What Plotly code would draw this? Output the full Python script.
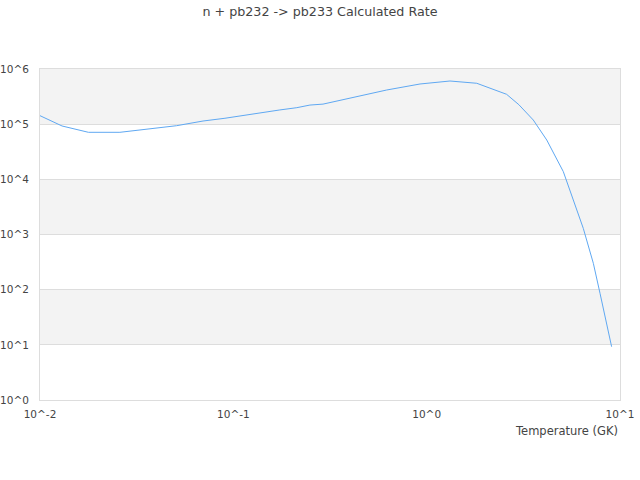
import plotly.graph_objects as go

title = "n + pb232 -> pb233 Calculated Rate"
x_label = "Temperature (GK)"

temperature = [0.01, 0.013, 0.0178, 0.0259, 0.0509, 0.0697, 0.0905, 0.1295, 0.174,
               0.213, 0.249, 0.291, 0.435, 0.621, 0.924, 1.32, 1.816, 2.395, 2.59,
               3.0, 3.56, 4.18, 5.09, 6.46, 7.28, 7.88, 9.05]
rate = [1.425e5, 9.27e4, 7.12e4, 7.12e4, 9.38e4, 1.14e5, 1.28e5, 1.57e5, 1.81e5,
        1.99e5, 2.22e5, 2.31e5, 3.15e5, 4.16e5, 5.35e5, 6.06e5, 5.51e5, 3.88e5, 3.48e5,
        2.25e5, 1.19e5, 5.16e4, 1.38e4, 1.29e3, 300, 86, 9.25]

x_exps = [-2, -1, 0, 1]
y_exps = [0, 1, 2, 3, 4, 5, 6]
band_exps = [1, 3, 5]  # shaded decades (lower bound)

fig = go.Figure()
fig.add_trace(go.Scatter(x=temperature, y=rate, mode="lines",
                         line=dict(color="#5fa8f2", width=1), showlegend=False,
                         hoverinfo="x+y"))

ymin, ymax = y_exps[0], y_exps[-1]
shapes = []
for e in band_exps:
    shapes.append(dict(type="rect", xref="paper", yref="paper", x0=0, x1=1,
                       y0=(e - ymin) / (ymax - ymin), y1=(e + 1 - ymin) / (ymax - ymin),
                       fillcolor="#f3f3f3", line=dict(width=0), layer="below"))

W, H = 640, 480
fig.update_layout(
    width=W, height=H,
    margin=dict(l=40, r=20, t=69, b=80),
    paper_bgcolor="white", plot_bgcolor="white",
    font=dict(family="DejaVu Sans", color="#444", size=12),
    title=dict(text=title, x=0.5, xanchor="center", y=1 - 12 / H, yanchor="middle",
               font=dict(size=12.7, color="#444")),
    shapes=shapes,
    xaxis=dict(type="log", range=[x_exps[0], x_exps[-1]], automargin=False,
               tickvals=[10 ** e for e in x_exps],
               ticktext=["10^%d" % e for e in x_exps],
               tickfont=dict(size=10.5),
               ticklabelstandoff=4,
               showgrid=False, zeroline=False, showline=True, mirror=True,
               linecolor="#dddddd", linewidth=1, ticks="", ticklen=0),
    yaxis=dict(type="log", range=[ymin, ymax], automargin=False,
               tickvals=[10 ** e for e in y_exps],
               ticktext=["10^%d" % e for e in y_exps],
               tickfont=dict(size=10.5),
               ticklabelstandoff=8,
               showgrid=True, gridcolor="#dddddd", gridwidth=1, zeroline=False,
               showline=True, mirror=True, linecolor="#dddddd", linewidth=1,
               ticks="", ticklen=0),
    annotations=[dict(text=x_label, xref="paper", yref="paper", x=1, y=0,
                      xanchor="right", yanchor="middle", yshift=-31, showarrow=False,
                      font=dict(size=11.5, color="#444"))],
)

fig.write_html("out.html",
               config={"displayModeBar": False},
               post_script="document.body.style.margin='0';document.body.style.padding='0';")
